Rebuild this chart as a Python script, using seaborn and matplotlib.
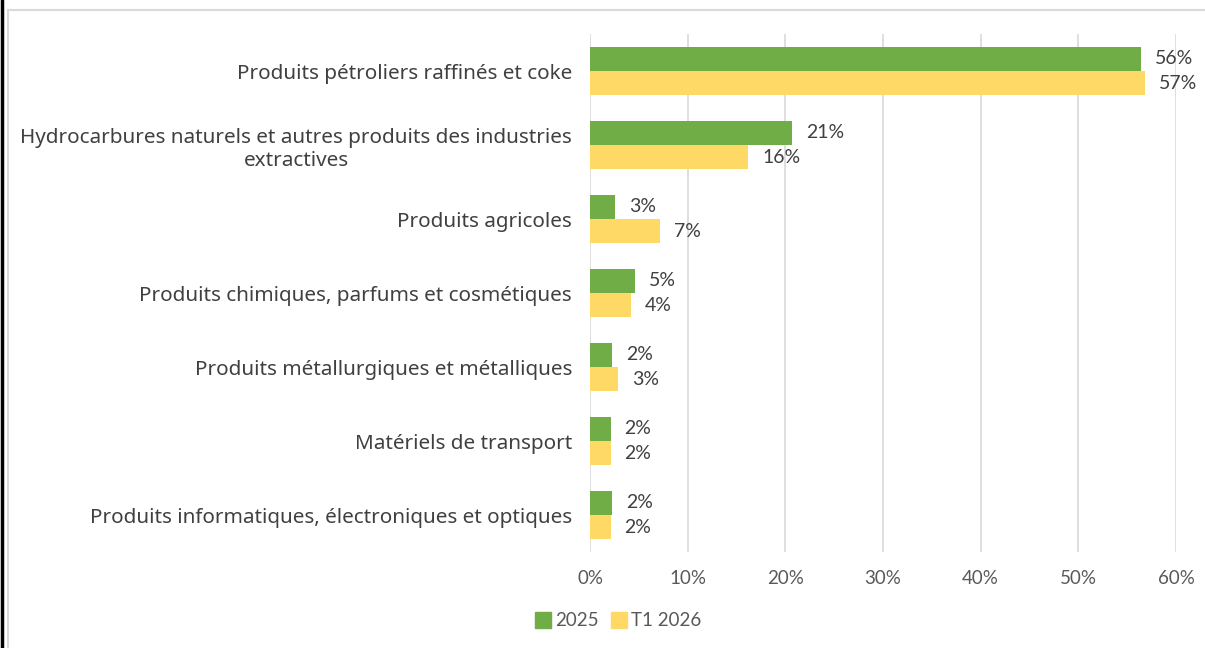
import matplotlib
matplotlib.use("Agg")
import matplotlib.pyplot as plt
import seaborn as sns
import pandas as pd
from matplotlib.lines import Line2D

categories = [
    "Produits pétroliers raffinés et coke",
    "Hydrocarbures naturels et autres produits des industries\nextractives",
    "Produits agricoles",
    "Produits chimiques, parfums et cosmétiques",
    "Produits métallurgiques et métalliques",
    "Matériels de transport",
    "Produits informatiques, électroniques et optiques",
]
series = ["2025", "T1 2026"]
values_2025 = [56.4, 20.7, 2.6, 4.6, 2.3, 2.1, 2.3]
values_t1_2026 = [56.8, 16.2, 7.2, 4.2, 2.9, 2.1, 2.1]
xticks = [0, 10, 20, 30, 40, 50, 60]
colors = ["#70AD47", "#FFD966"]

df = pd.DataFrame({
    "cat": categories * 2,
    "serie": [series[0]] * len(categories) + [series[1]] * len(categories),
    "val": values_2025 + values_t1_2026,
})

sns.set_theme(style="white")
plt.rcParams["font.family"] = ["Lato", "DejaVu Sans"]

fig = plt.figure(figsize=(12.05, 6.48), dpi=100)
ax = fig.add_axes([590 / 1205, 1 - 552 / 648, 586 / 1205, 518 / 648])

sns.barplot(data=df, y="cat", x="val", hue="serie", order=categories,
            hue_order=series, palette=colors, orient="h", width=0.65,
            gap=0, saturation=1, ax=ax, legend=False, linewidth=0,
            edgecolor="none")

ax.set_xlim(0, 60)
ax.set_xticks(xticks)
ax.set_xticklabels([f"{t}%" for t in xticks], color="#595959", fontsize=13.5)
ax.tick_params(axis="x", length=0, pad=13)
ax.tick_params(axis="y", length=0, pad=13)
for lbl in ax.get_yticklabels():
    lbl.set_fontsize(14.9)
    lbl.set_color("#404040")
    lbl.set_family(["Noto Sans", "DejaVu Sans"])
    lbl.set_horizontalalignment("right")
    lbl.set_multialignment("center")
ax.set_xlabel("")
ax.set_ylabel("")
ax.grid(axis="x", color="#D9D9D9", linewidth=1.2)
ax.set_axisbelow(True)
for s in ax.spines.values():
    s.set_visible(False)

for cont in ax.containers:
    texts = ax.bar_label(cont, labels=[f"{round(v.get_width()):.0f}%" for v in cont],
                         padding=10, fontsize=14, color="#404040")
    for t in texts:
        t.set_y(t.get_position()[1])

handles = [Line2D([], [], marker="s", linestyle="", markersize=11,
                  markerfacecolor=c, markeredgecolor=c) for c in colors]
fig.legend(handles, series, loc="center", bbox_to_anchor=(615 / 1205, 1 - 621 / 648),
           ncol=2, frameon=False, fontsize=13.5, handletextpad=-0.1,
           columnspacing=0.3, handlelength=1.5, labelcolor="#595959")

# frame
fig.add_artist(Line2D([8 / 1205, 1], [1 - 10 / 648, 1 - 10 / 648],
                      transform=fig.transFigure, color="#D9D9D9", linewidth=1.5))
fig.add_artist(Line2D([8 / 1205, 8 / 1205], [0, 1 - 10 / 648],
                      transform=fig.transFigure, color="#D9D9D9", linewidth=1.5))
fig.add_artist(Line2D([1.5 / 1205, 1.5 / 1205], [0, 1],
                      transform=fig.transFigure, color="black", linewidth=2.5))

fig.savefig("out.png", dpi=100)
